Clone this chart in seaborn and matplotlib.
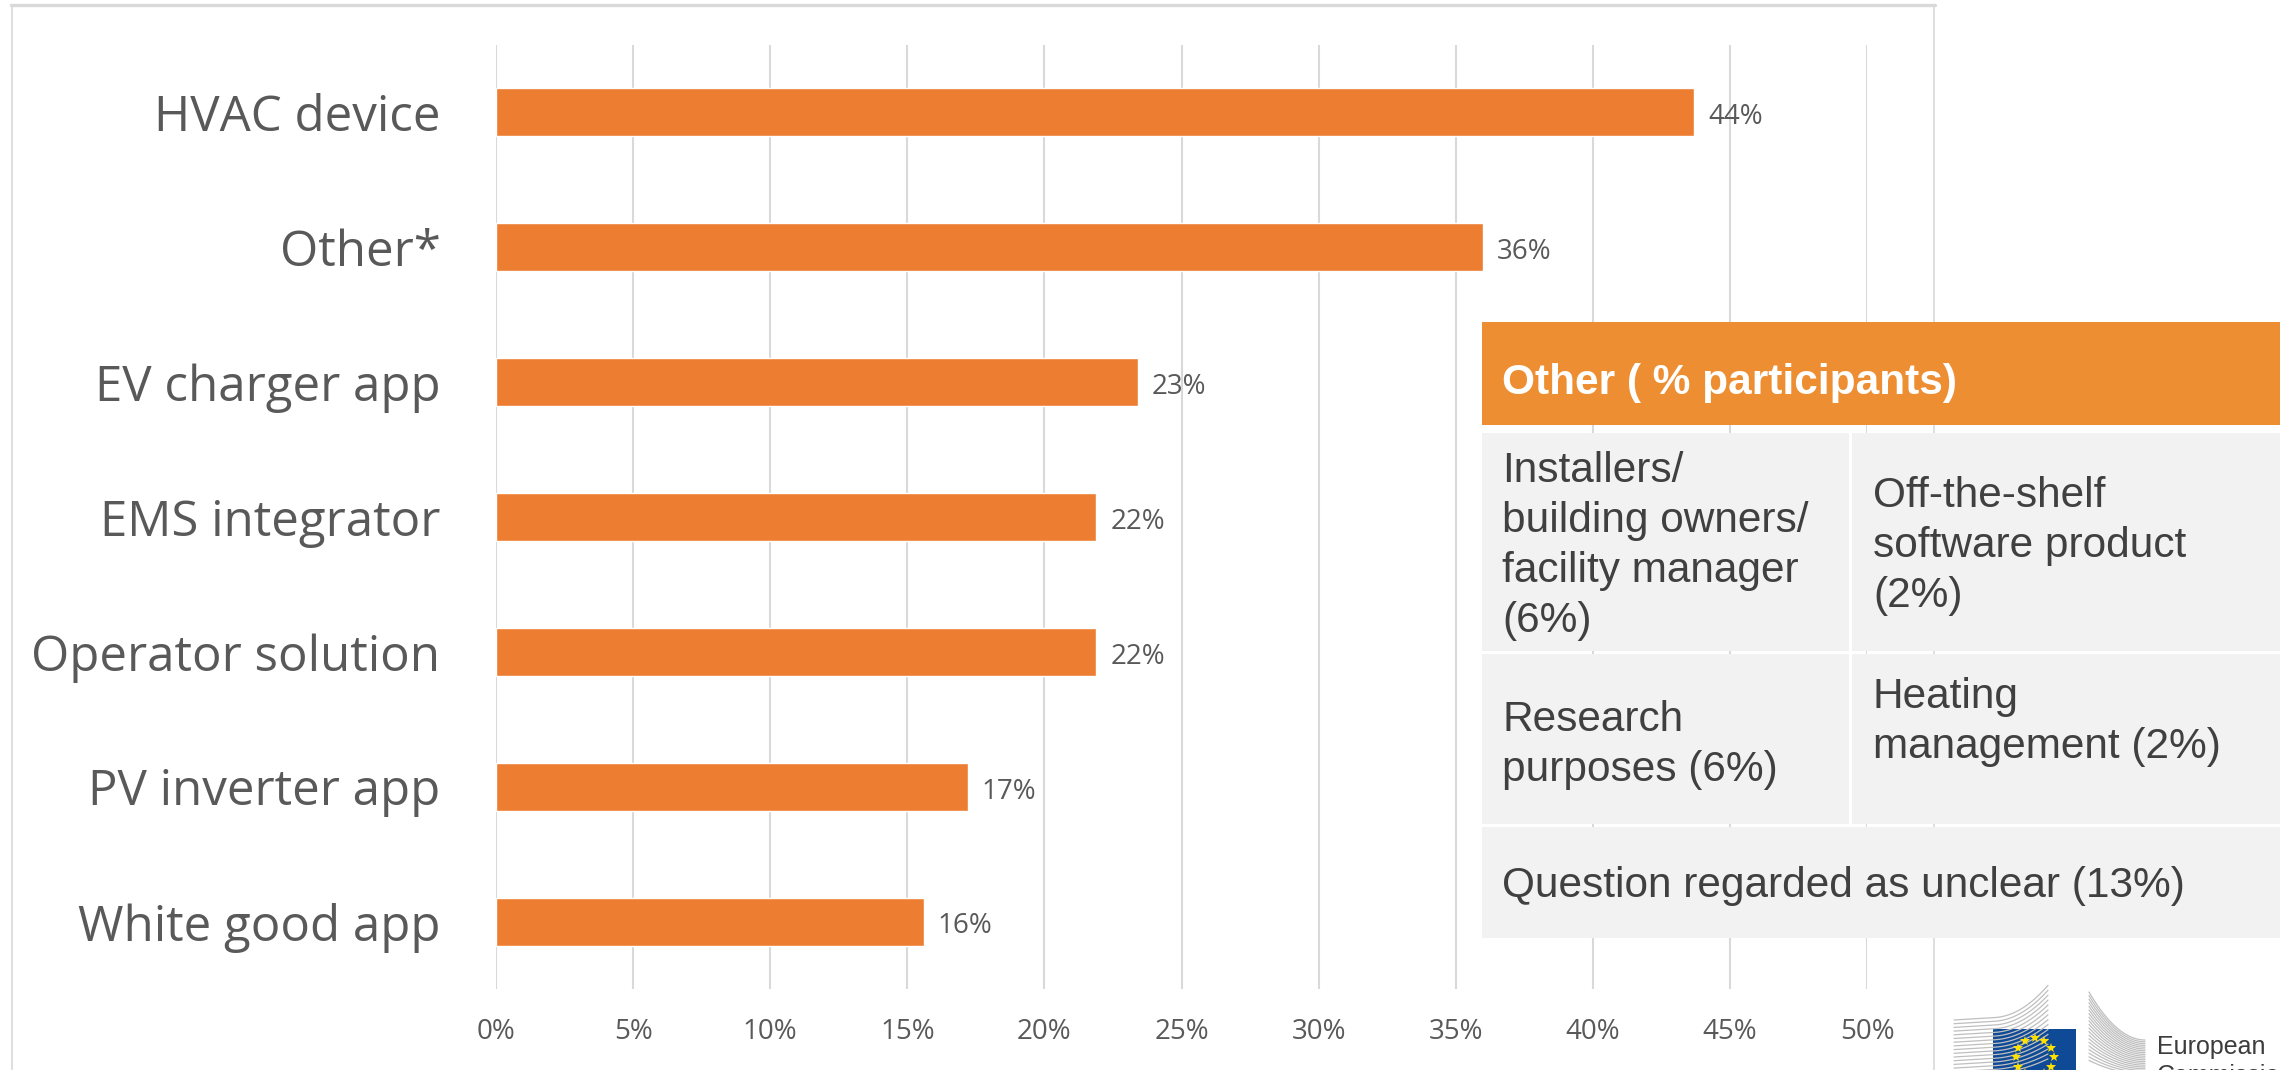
import matplotlib
matplotlib.use("Agg")
import matplotlib.pyplot as plt
import seaborn as sns
import numpy as np
import pandas as pd
from matplotlib.patches import Rectangle

# ---------------- data ----------------
categories = ["HVAC device", "Other*", "EV charger app", "EMS integrator",
              "Operator solution", "PV inverter app", "White good app"]
values = [43.7, 36.0, 23.4, 21.9, 21.9, 17.2, 15.6]
x_ticks = [0, 5, 10, 15, 20, 25, 30, 35, 40, 45, 50]
x_tick_labels = [f"{t}%" for t in x_ticks]

table_title = "Other ( % participants)"
table_cells = [
    "Installers/\nbuilding owners/\nfacility manager\n(6%)",
    "Off-the-shelf\nsoftware product\n(2%)",
    "Research\npurposes (6%)",
    "Heating\nmanagement (2%)",
    "Question regarded as unclear (13%)",
]
logo_words = ["European", "Commission"]

df = pd.DataFrame({"category": categories, "value": values})

# ---------------- style ----------------
sns.set_style("white")
plt.rcParams['font.family'] = ['Open Sans', 'DejaVu Sans']

W, H = 2280, 1070
fig = plt.figure(figsize=(W / 100, H / 100), dpi=100)
fig.patch.set_facecolor("white")

# frame (behind the chart)
bg = fig.add_axes([0, 0, 1, 1], zorder=0)
bg.set_xlim(0, W)
bg.set_ylim(H, 0)
bg.axis("off")
bg.plot([12, 12], [5, H + 5], color="#D9D9D9", lw=1.2)
bg.plot([1934, 1934], [5, H + 5], color="#D9D9D9", lw=1.2)
bg.plot([11, 1935], [5, 5], color="#D9D9D9", lw=2.4)

# ---------------- main chart ----------------
ax = fig.add_axes([496 / W, 1 - 989 / H, (1867 - 496) / W, (989 - 45) / H], zorder=1)
ax.patch.set_alpha(0)
sns.barplot(data=df, x="value", y="category", color="#ED7D31", saturation=1,
            width=0.355, ax=ax, zorder=3)
ax.set_xlim(0, 50)
ax.set_ylim(6.5, -0.5)
ax.set_xticks(x_ticks)
ax.set_xticklabels(x_tick_labels)
ax.set_xlabel("")
ax.set_ylabel("")
ax.grid(axis="x", color="#D9D9D9", lw=1.5, zorder=0)
ax.grid(axis="y", visible=False)
for s in ax.spines.values():
    s.set_visible(False)
ax.tick_params(axis="x", length=0, pad=21, labelsize=20, labelcolor="#595959")
ax.tick_params(axis="y", length=0, pad=40, labelsize=35.5, labelcolor="#595959")

anns = ax.bar_label(ax.containers[0], labels=[f"{v:.0f}%" for v in values],
                    padding=10, fontsize=20, color="#595959")
for a in anns:
    a.xyann = (10, -3.5)

# ---------------- overlay: table + logo ----------------
ov = fig.add_axes([0, 0, 1, 1], zorder=5)
ov.set_xlim(0, W)
ov.set_ylim(H, 0)
ov.axis("off")
ov.patch.set_alpha(0)

tfont = ['Liberation Sans', 'DejaVu Sans']
cell_bg = "#F2F2F2"
txt_col = "#404040"

# header
ov.add_patch(Rectangle((1482, 322), W - 1482 + 5, 103, facecolor="#EE8E32", edgecolor="none"))
ov.text(1502, 383, table_title, color="white", fontsize=30.5, fontweight="bold",
        family=tfont, va="center", ha="left")
# row 1
ov.add_patch(Rectangle((1482, 433), 1849 - 1482, 651 - 433, facecolor=cell_bg, edgecolor="none"))
ov.add_patch(Rectangle((1852, 433), W - 1852 + 5, 651 - 433, facecolor=cell_bg, edgecolor="none"))
# row 2
ov.add_patch(Rectangle((1482, 654), 1849 - 1482, 824 - 654, facecolor=cell_bg, edgecolor="none"))
ov.add_patch(Rectangle((1852, 654), W - 1852 + 5, 824 - 654, facecolor=cell_bg, edgecolor="none"))
# row 3
ov.add_patch(Rectangle((1482, 827), W - 1482 + 5, 938 - 827, facecolor=cell_bg, edgecolor="none"))

cell_pos = [(1502, 546), (1873, 546), (1502, 745), (1873, 722), (1502, 886)]
for (cx, cy), t in zip(cell_pos, table_cells):
    ov.text(cx, cy, t, color=txt_col, fontsize=30.5, family=tfont,
            va="center", ha="left", linespacing=1.33)

# ---------------- logo ----------------
gray = "#BFBFBF"
# left building block
for i in range(16):
    y0 = 1020 + i * 3.7
    xs = np.linspace(1954, 2048, 40)
    rise = (29 - i * 1.2) * np.clip((xs - 1995) / 53, 0, 1) ** 2
    ov.plot(xs, y0 - rise - (xs - 1954) * 0.06, color=gray, lw=0.9)
# right building block
for i in range(20):
    ys = 992 + i * 3.6
    ye = 1040 + i * 1.8
    xs = np.linspace(2089, 2145, 40)
    t = (xs - 2089) / 56
    ov.plot(xs, ys + (ye - ys) * (1 - (1 - t) ** 2), color=gray, lw=0.9)
# flag
ov.add_patch(Rectangle((1993, 1029), 83, 50, facecolor="#0F4A97", edgecolor="none"))
ang = np.deg2rad(np.arange(12) * 30)
ov.plot(2034.5 + 19 * np.sin(ang), 1057 - 19 * np.cos(ang), ls="none", marker="*",
        ms=7, color="#FFE100", markeredgewidth=0)
ov.text(2157, 1054, logo_words[0], fontsize=18, color="#3C3C3C", family=tfont,
        ha="left", va="baseline")
ov.text(2157, 1083, logo_words[1], fontsize=18, color="#3C3C3C", family=tfont,
        ha="left", va="baseline")

fig.savefig("out.png", dpi=100)
